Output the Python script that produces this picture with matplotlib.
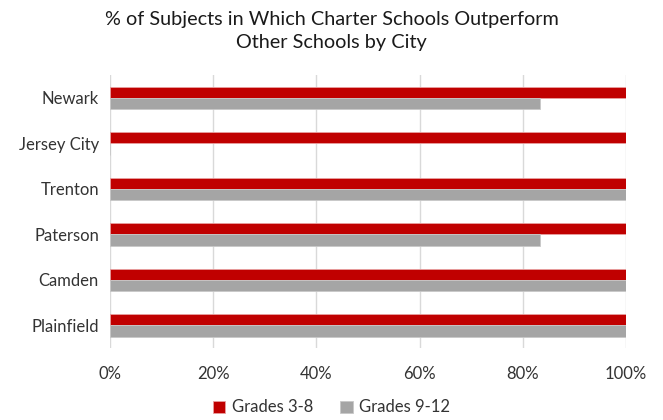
import matplotlib.pyplot as plt
import numpy as np

cities = ["Newark", "Jersey City", "Trenton", "Paterson", "Camden", "Plainfield"]
grades_3_8 = [100, 100, 100, 100, 100, 100]
grades_9_12 = [83.3, 0, 100, 83.3, 100, 100]

plt.rcParams['font.family'] = ['Lato', 'DejaVu Sans']

fig = plt.figure(figsize=(6.63, 4.2), dpi=100)
ax = fig.add_axes([0.166, 0.171, 0.778, 0.650])

y = np.arange(len(cities))
h = 0.25
ax.barh(y - h / 2, grades_3_8, height=h, color='#c00000', edgecolor='#e8a0a0',
        linewidth=0.6, label='Grades 3-8', zorder=3)
ax.barh(y + h / 2, grades_9_12, height=h, color='#a5a5a5', edgecolor='#c8c8c8',
        linewidth=0.6, label='Grades 9-12', zorder=3)

ax.set_ylim(len(cities) - 0.5, -0.5)
ax.set_xlim(0, 100)
ax.set_yticks(y)
ax.set_yticklabels(cities, fontsize=12, color='#333333')
ax.set_xticks(np.arange(0, 101, 20))
ax.set_xticklabels([f"{v}%" for v in range(0, 101, 20)], fontsize=12, color='#333333')
ax.tick_params(length=0, pad=8)
ax.tick_params(axis='x', pad=13)
ax.grid(axis='x', color='#d9d9d9', linewidth=1, zorder=0)
for s in ax.spines.values():
    s.set_visible(False)

fig.text(0.5, 0.975, "% of Subjects in Which Charter Schools Outperform\nOther Schools by City",
         ha='center', va='top', fontsize=14.3, color='#1a1a1a', linespacing=1.45)

fig.legend(loc='lower center', bbox_to_anchor=(0.5, -0.025), ncol=2, frameon=False,
           fontsize=12, handlelength=0.75, handleheight=0.75, columnspacing=1.6,
           handletextpad=0.4, labelcolor='#333333')

fig.savefig("out.png", dpi=100)
